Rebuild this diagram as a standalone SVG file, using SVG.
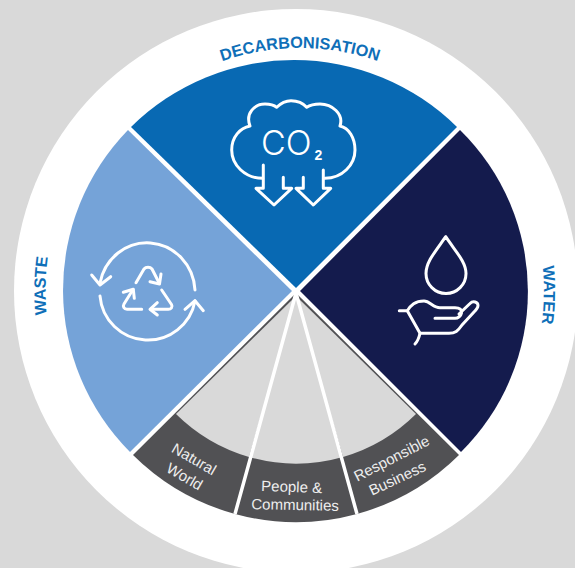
<svg xmlns="http://www.w3.org/2000/svg" width="575" height="568" viewBox="0 0 575 568">
<style>
.ln{fill:none;stroke:#fff;stroke-width:3;stroke-linecap:round;stroke-linejoin:round}
.lab{font-family:"Liberation Sans",Arial,sans-serif;font-weight:700;font-size:16.300px;fill:#0f6fb8}
.sub{font-family:"Liberation Sans",Arial,sans-serif;font-size:15px;fill:#eee;text-anchor:middle}
</style>
<defs>
<path id="arcTop" d="M60,291A240,243 0 0 1 540,291"/>
<path id="arcLeft" d="M78.600,415.500A251,251 0 0 1 78.600,166.500"/>
<path id="arcRight" d="M511,167.500A249,249 0 0 1 511,414.500"/>
</defs>
<rect width="575" height="568" fill="#d9d9d9"/>
<circle cx="296" cy="291" r="282" fill="#fff"/>
<g id="decarbonisation">
<path d="M296,288L131,127A232,232 0 0 1 457,127Z" fill="#0869b3"/>
<path class="ln" d="M262.700,178.300C245,178.300 231.700,165 231.700,150C231.700,137 240,128 250,126C245,113 255,104 265,104C270,104 274,105 276.700,107.300C281,103 285,100.700 291,100.700C298,100.700 303,103 306.700,107.300C310,105 315,104 320,104C332,104 344,114 340,126C349,128 355,138 355,150C355,165 342,178.300 325,178.300"/>
<path class="ln" d="M263.300,165V188.300H256L274,205L291.700,188.300H283.300V177.300"/>
<path class="ln" d="M303.300,177.300V188.300H296L313.300,205L330.700,188.300H323.300V170"/>
<text x="261" y="154.500" font-family="Inter,'Liberation Sans',sans-serif" font-weight="300" font-size="34" fill="#fff">CO</text>
<text x="314.500" y="160" font-family="'Liberation Sans',sans-serif" font-weight="700" font-size="14" fill="#fff">2</text>
<text class="lab" text-anchor="middle"><textPath href="#arcTop" startOffset="50%">DECARBONISATION</textPath></text>
</g>
<g id="water">
<path d="M300,291L460,130A226,226 0 0 1 461,452Z" fill="#141b4d"/>
<path class="ln" d="M445.700,236.700C435,252 426,262 426,273.500A20,20 0 0 0 466,273.500C466,262 456,252 445.700,236.700Z"/>
<path class="ln" d="M399.300,310.700H407.300C411,305 415,301 424,301C430,301 433,307.700 440,307.700H455C460,307.700 462,310 461.500,313C461,316 458,318.300 455,318.300H435"/>
<path class="ln" d="M407.300,310.700L420,333.300C419,338 418,341 415,344"/>
<path class="ln" d="M459,314L470,303.500C473,300.500 478,302 478,305.500C478,308 476,310 474,312L462,325C458,331 455,333.300 449,333.300H420"/>
<text class="lab" text-anchor="middle"><textPath href="#arcRight" startOffset="51.500%">WATER</textPath></text>
</g>
<g id="waste">
<path d="M292,291L128,130A229.500,229.500 0 0 0 130,452Z" fill="#75a3d8"/>
<path class="ln" d="M195,290A48,50 0 0 0 100,283"/>
<path class="ln" d="M91.700,275L100,285L110.700,276.700"/>
<path class="ln" d="M100,296A48,48 0 0 0 195,301"/>
<path class="ln" d="M185,309.300L195,300.700L203.300,310.700"/>
<path class="ln" d="M136,282.700L144,269C146,266.500 150,266.500 152,269L159.300,283.300"/>
<path class="ln" d="M150,281.700L159.500,284L161,274"/>
<path class="ln" d="M141.700,309.300H127C124,309.300 122.500,306.500 124,304L133,289.500"/>
<path class="ln" d="M123.300,292.300L133.300,289.300L134.300,298.300"/>
<path class="ln" d="M161.700,290L171.500,304.500C173,307 171,309.300 168.300,309.300H150.700"/>
<path class="ln" d="M157.300,302.700L150,309.300L157.300,315"/>
<text class="lab" text-anchor="middle"><textPath href="#arcLeft" startOffset="52%">WASTE</textPath></text>
</g>
<g id="natural-world">
<path d="M296,293L133,455A232,232 0 0 0 235,514Z" fill="#515154"/>
<path d="M296,296L176,414A172,172 0 0 0 249,457Z" fill="#d9d9d9"/>
<text class="sub" transform="translate(191.500,463.500) rotate(30)">Natural</text>
<text class="sub" transform="translate(182,481) rotate(30)">World</text>
</g>
<g id="people-communities">
<path d="M296,293L235,514A232,232 0 0 0 357,514Z" fill="#515154"/>
<path d="M296,296L249,457A172,172 0 0 0 343,457Z" fill="#d9d9d9"/>
<text class="sub" transform="translate(291.500,492) rotate(2)">People &amp;</text>
<text class="sub" transform="translate(295,510) rotate(1)">Communities</text>
</g>
<g id="responsible-business">
<path d="M296,293L357,514A232,232 0 0 0 459,455Z" fill="#515154"/>
<path d="M296,296L343,457A172,172 0 0 0 416,414Z" fill="#d9d9d9"/>
<text class="sub" transform="translate(394,463) rotate(-27)">Responsible</text>
<text class="sub" transform="translate(399.500,483) rotate(-25)">Business</text>
</g>
<g id="connectors">
<path d="M296,293L235,514M296,293L357,514" fill="none" stroke="#fff" stroke-width="3.500"/>
</g>
</svg>
